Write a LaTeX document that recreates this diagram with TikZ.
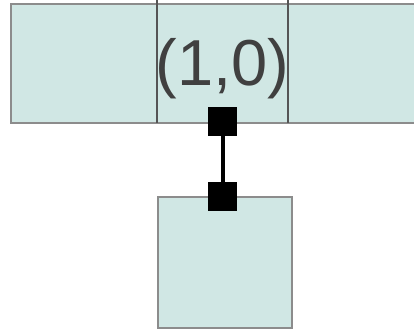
\documentclass[tikz,border=0pt]{standalone}
\usepackage{fontspec}
\setmainfont{Liberation Sans}
\definecolor{cellfill}{RGB}{208,231,228}
\definecolor{cellborder}{RGB}{140,140,140}
\definecolor{divider}{RGB}{85,85,85}
\definecolor{labeltext}{RGB}{64,64,64}
\tikzset{
  cell/.style={draw=cellborder, fill=cellfill, line width=1.5pt},
  divline/.style={draw=divider, line width=1.6pt},
  pin/.style={fill=black, draw=none, minimum size=29pt, inner sep=0pt, outer sep=0pt},
  link/.style={draw=black, line width=4pt},
}
\begin{document}
\begin{tikzpicture}[x=1pt, y=-1pt]
  \useasboundingbox (0,0) rectangle (414,331);
  \clip (0,0) rectangle (414,331);
  % top row of three cells
  \path[cell] (11,4) rectangle (430,123);
  \node[inner sep=0pt, outer sep=0pt, minimum width=146pt, minimum height=119pt] (left) at (84,63.5) {};
  \node[inner sep=0pt, outer sep=0pt, minimum width=131pt, minimum height=119pt] (mid) at (222.5,63.5) {};
  \node[inner sep=0pt, outer sep=0pt, minimum width=140pt, minimum height=119pt] (right) at (358,63.5) {};
  \draw[divline] (157,0) -- (157,123);
  \draw[divline] (288,0) -- (288,123);
  \node[text=labeltext, font=\fontsize{65}{70}\selectfont, inner sep=0pt] (lbl) at (222.5,69) {(1,0)};
  % lower cell
  \node[cell, minimum width=134pt, minimum height=131pt, inner sep=0pt] (low) at (225,262.5) {};
  % connector with square end markers
  \node[pin] (pa) at (222.5,121.5) {};
  \node[pin] (pb) at (222.5,196.5) {};
  \draw[link] (pa.south) -- (pb.north);
\end{tikzpicture}
\end{document}
